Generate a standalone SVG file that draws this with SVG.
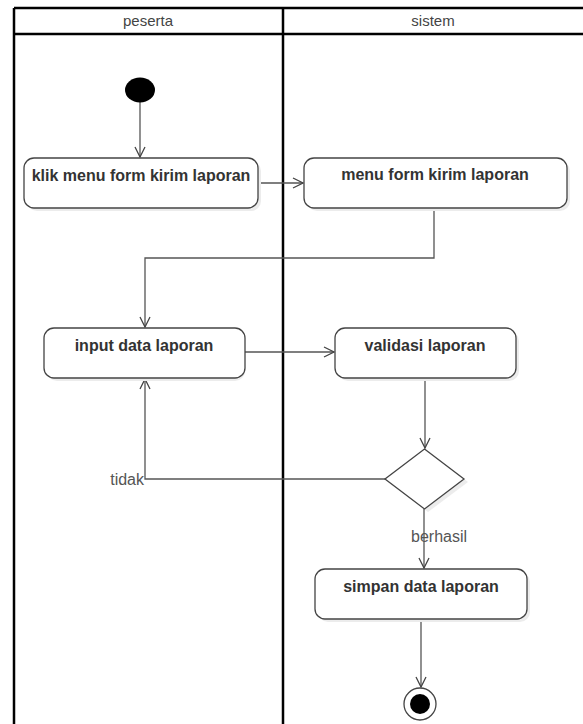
<svg xmlns="http://www.w3.org/2000/svg" width="583" height="724" viewBox="0 0 583 724">
<style>
.lane{stroke:#000;stroke-width:2.5;fill:none}
.hdr{font-family:"Liberation Sans",Arial,sans-serif;font-size:15px;fill:#444;text-anchor:middle}
.box{fill:#fff;stroke:#444;stroke-width:1.3}
.shadow{fill:#ececec;stroke:none}
.lbl{font-family:"Liberation Sans",Arial,sans-serif;font-size:16px;font-weight:bold;fill:#333;text-anchor:middle}
.edge{stroke:#555;stroke-width:1.3;fill:none}
.elbl{font-family:"Liberation Sans",Arial,sans-serif;font-size:16px;fill:#555}
</style>
<defs>
<marker id="arr" viewBox="0 0 12 12" refX="11" refY="6" markerWidth="12" markerHeight="12" markerUnits="userSpaceOnUse" orient="auto">
<path d="M1,1 L11,6 L1,11" fill="none" stroke="#444" stroke-width="1.3"/>
</marker>
</defs>
<rect width="583" height="724" fill="#fff"/>
<g id="swimlanes">
<line class="lane" x1="14" y1="8" x2="583" y2="8"/>
<line class="lane" x1="14" y1="34" x2="583" y2="34"/>
<line class="lane" x1="14" y1="8" x2="14" y2="724"/>
<line class="lane" x1="283" y1="8" x2="283" y2="724"/>
<text class="hdr" x="148" y="26">peserta</text>
<text class="hdr" x="433" y="26">sistem</text>
</g>
<g id="connectors">
<path class="edge" d="M140,102 L140,157" marker-end="url(#arr)"/>
<path class="edge" d="M258,183 L303,183" marker-end="url(#arr)"/>
<path class="edge" d="M434,208 L434,258 L145,258 L145,327" marker-end="url(#arr)"/>
<path class="edge" d="M245,352 L334,352" marker-end="url(#arr)"/>
<path class="edge" d="M425,378 L425,448" marker-end="url(#arr)"/>
<path class="edge" d="M385,479 L145,479 L145,379" marker-end="url(#arr)"/>
<path class="edge" d="M424,509 L424,568" marker-end="url(#arr)"/>
<path class="edge" d="M421,619 L421,687" marker-end="url(#arr)"/>
<text class="elbl" x="144" y="485" text-anchor="end">tidak</text>
<text class="elbl" x="411" y="542">berhasil</text>
</g>
<g id="start">
<ellipse cx="140" cy="90" rx="15" ry="12.5" fill="#000"/>
</g>
<g id="klik-menu">
<rect class="shadow" x="27" y="161" width="234" height="50" rx="10"/>
<rect class="box" x="24" y="158" width="234" height="50" rx="10"/>
<text class="lbl" x="141" y="181">klik menu form kirim laporan</text>
</g>
<g id="menu-form">
<rect class="shadow" x="307" y="161" width="263" height="50" rx="10"/>
<rect class="box" x="304" y="158" width="263" height="50" rx="10"/>
<text class="lbl" x="435" y="180">menu form kirim laporan</text>
</g>
<g id="input-data">
<rect class="shadow" x="47" y="331" width="198" height="50" rx="10"/>
<rect class="box" x="44" y="328" width="201" height="50" rx="10"/>
<text class="lbl" x="144" y="351">input data laporan</text>
</g>
<g id="validasi">
<rect class="shadow" x="338" y="331" width="181" height="50" rx="10"/>
<rect class="box" x="335" y="328" width="181" height="50" rx="10"/>
<text class="lbl" x="425" y="351">validasi laporan</text>
</g>
<g id="decision">
<polygon class="shadow" points="428,452 468,482 428,512 388,482"/>
<polygon class="box" points="424.5,449 464,479 424.5,509 385,479"/>
</g>
<g id="simpan">
<rect class="shadow" x="318" y="572" width="212" height="50" rx="10"/>
<rect class="box" x="315" y="569" width="212" height="50" rx="10"/>
<text class="lbl" x="421" y="592">simpan data laporan</text>
</g>
<g id="end">
<circle cx="420" cy="704" r="16" fill="#fff" stroke="#444" stroke-width="1.3"/>
<circle cx="420" cy="704" r="10" fill="#000"/>
</g>
</svg>
